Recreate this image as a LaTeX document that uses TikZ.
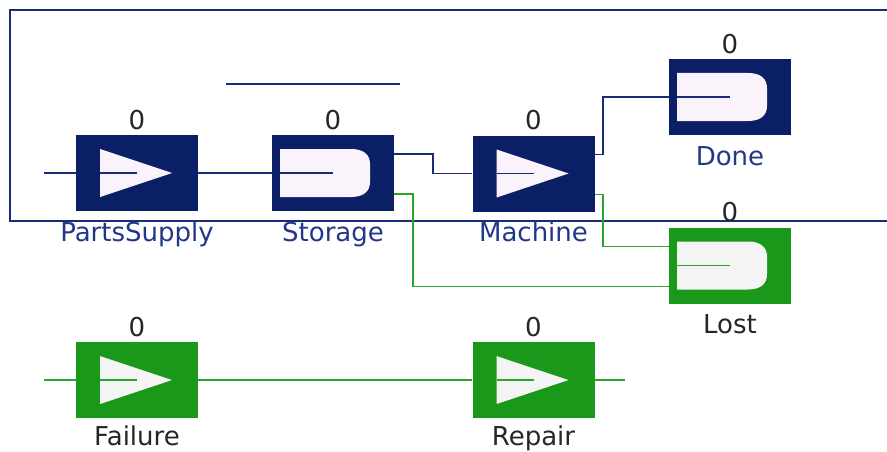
\documentclass[tikz,border=0pt]{standalone}
\usepackage{fontspec}
\setmainfont{DejaVu Sans}
\usetikzlibrary{calc}
\definecolor{navy}{HTML}{0B1F66}
\definecolor{navyline}{HTML}{1A2C78}
\definecolor{navytext}{HTML}{22378A}
\definecolor{grbox}{HTML}{1A981A}
\definecolor{grline}{HTML}{2BA52B}
\definecolor{iconw}{HTML}{FBF3FB}
\definecolor{icong}{HTML}{F4F4F4}
\newcommand{\TriIcon}[3]{%
  \begin{scope}[shift={(#1.center)}]
    \fill[#2] (-37,-24) -- (35,0) -- (-37,24) -- cycle;
    \draw[#3, line width=1.6pt] (-37,0) -- (0,0);
  \end{scope}}
\newcommand{\DIcon}[3]{%
  \begin{scope}[shift={(#1.center)}]
    \fill[#2] (-53,-24) -- (18,-24) .. controls (31,-24) and (37,-18) .. (37,-9)
      -- (37,9) .. controls (37,18) and (31,24) .. (18,24) -- (-53,24) -- cycle;
    \draw[#3, line width=1.6pt] (-53,0) -- (0,0);
  \end{scope}}
\begin{document}
\begin{tikzpicture}[x=1pt,y=-1pt,
  box/.style={rectangle, minimum width=122pt, minimum height=76pt, inner sep=0pt, draw=none},
  navybox/.style={box, fill=navy},
  greenbox/.style={box, fill=grbox},
  bl/.style={draw=navyline, line width=1.6pt},
  gl/.style={draw=grline, line width=1.6pt},
  frame/.style={draw=navyline, line width=2pt},
  cnt/.style={font=\fontsize{26}{26}\selectfont, text=black!85, inner sep=0pt},
  bname/.style={font=\fontsize{26}{26}\selectfont, text=navytext, inner sep=0pt, anchor=base},
  gname/.style={font=\fontsize{26}{26}\selectfont, text=black!85, inner sep=0pt, anchor=base}
]
\useasboundingbox (0,0) rectangle (887,452);
\fill[white] (0,0) rectangle (887,452);

% frame and top line
\coordinate (f1) at (887,10);
\coordinate (f2) at (10,10);
\coordinate (f3) at (10,221);
\coordinate (f4) at (887,221);
\draw[frame] (f1) -- (f2) -- (f3) -- (f4);
\coordinate (t1) at (226,84);
\coordinate (t2) at (400,84);
\draw[frame] (t1) -- (t2);

% free ends
\coordinate (in1) at (44,173);
\coordinate (in2) at (44,380);
\coordinate (out2) at (625,380);

% boxes
\node[navybox] (ps) at (137,173) {};
\node[navybox] (st) at (333,173) {};
\node[navybox] (mc) at (533.5,173.5) {};
\node[navybox] (dn) at (730,97) {};
\node[greenbox] (lo) at (730,265.5) {};
\node[greenbox] (fl) at (137,380) {};
\node[greenbox] (rp) at (533.5,380) {};

% connectors
\draw[bl] (in1) -- (ps.west);
\draw[bl] (ps.east) -- (st.west);
\draw[bl] ($(st.east)+(0,-19)$) -- ++(39,0) |- (mc.west);
\draw[bl] ($(mc.east)+(0,-19)$) -- ++(8,0) |- (dn.west);
\draw[gl] ($(st.east)+(0,21)$) -- ++(19,0) |- ($(lo.west)+(0,21)$);
\draw[gl] ($(mc.east)+(0,21)$) -- ++(8,0) |- ($(lo.west)+(0,-19)$);
\draw[gl] (in2) -- (fl.west);
\draw[gl] (fl.east) -- (rp.west);
\draw[gl] (rp.east) -- (out2);

% icons
\TriIcon{ps}{iconw}{navyline}
\DIcon{st}{iconw}{navyline}
\TriIcon{mc}{iconw}{navyline}
\DIcon{dn}{iconw}{navyline}
\DIcon{lo}{icong}{grline}
\TriIcon{fl}{icong}{grline}
\TriIcon{rp}{icong}{grline}

% counters
\foreach \n in {ps,st,mc,dn,lo,fl,rp}{
  \node[cnt] (c\n) at ($(\n.north)+(0,-15)$) {0};
}

% names
\node[bname] (lps) at ($(ps.south)+(0,30)$) {PartsSupply};
\node[bname] (lst) at ($(st.south)+(0,30)$) {Storage};
\node[bname] (lmc) at ($(mc.south)+(0,30)$) {Machine};
\node[bname] (ldn) at ($(dn.south)+(0,30)$) {Done};
\node[gname] (llo) at ($(lo.south)+(0,30)$) {Lost};
\node[gname] (lfl) at ($(fl.south)+(0,27)$) {Failure};
\node[gname] (lrp) at ($(rp.south)+(0,27)$) {Repair};
\end{tikzpicture}
\end{document}
